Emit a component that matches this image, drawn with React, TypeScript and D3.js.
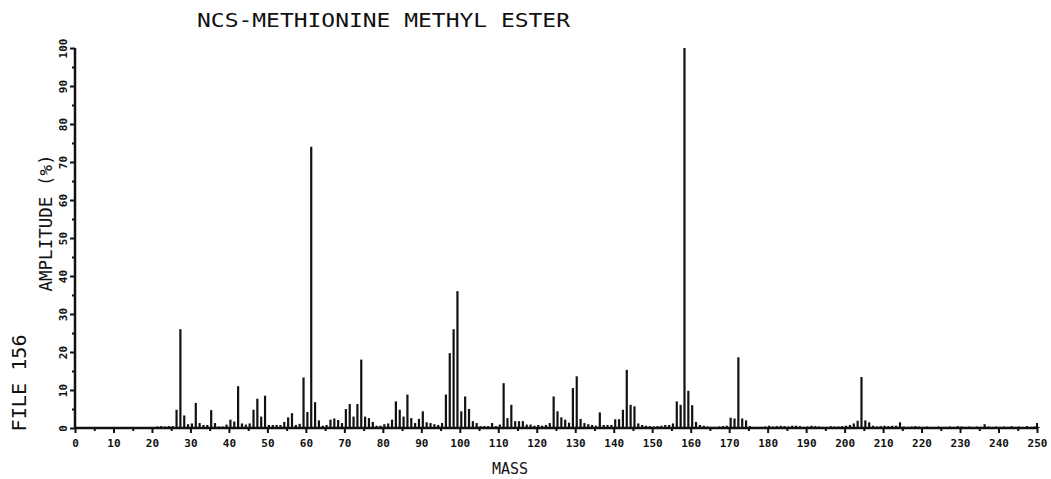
import { useEffect, useRef } from "react";
import * as d3 from "d3";

// m/z values and relative amplitudes (%)
const masses = [
  21, 22, 23, 24, 25, 26, 27, 28, 29, 30, 31, 32, 33, 34, 35, 36, 37, 38, 39, 40,
  41, 42, 43, 44, 45, 46, 47, 48, 49, 50, 51, 52, 53, 54, 55, 56, 57, 58, 59, 60,
  61, 62, 63, 64, 65, 66, 67, 68, 69, 70, 71, 72, 73, 74, 75, 76, 77, 78, 79, 80,
  81, 82, 83, 84, 85, 86, 87, 88, 89, 90, 91, 92, 93, 94, 95, 96, 97, 98, 99, 100,
  101, 102, 103, 104, 105, 106, 107, 108, 109, 110, 111, 112, 113, 114, 115, 116, 117, 118, 119, 120,
  121, 122, 123, 124, 125, 126, 127, 128, 129, 130, 131, 132, 133, 134, 135, 136, 137, 138, 139, 140,
  141, 142, 143, 144, 145, 146, 147, 148, 149, 150, 151, 152, 153, 154, 155, 156, 157, 158, 159, 160,
  161, 162, 163, 164, 165, 166, 167, 168, 169, 170, 171, 172, 173, 174, 175, 176, 177, 178, 179, 180,
  181, 182, 183, 184, 185, 186, 187, 188, 189, 190, 191, 192, 193, 194, 195, 196, 197, 198, 199, 200,
  201, 202, 203, 204, 205, 206, 207, 208, 209, 210, 211, 212, 213, 214, 215, 216, 217, 218, 219, 220,
  221, 222, 223, 224, 225, 226, 227, 228, 229, 230, 231, 232, 233, 234, 235, 236, 237, 238, 239, 240,
  241, 242, 243, 244, 245, 246, 247, 248, 249, 250,
];

const amplitudes = [
  0.4, 0.5, 0.4, 0.5, 0.5, 4.8, 26, 3.3, 1.0, 1.2, 6.6, 1.3, 0.8, 0.8, 4.7, 1.3, 0.4, 0.4, 0.9, 2.2,
  1.7, 11, 1.2, 0.9, 1.2, 4.8, 7.7, 3.0, 8.5, 0.8, 0.8, 0.8, 0.8, 1.6, 2.8, 3.9, 0.8, 1.1, 13.3, 4.2,
  74, 6.8, 2.0, 0.6, 0.8, 2.2, 2.5, 2.1, 1.3, 5.0, 6.3, 3.0, 6.3, 18, 3.0, 2.6, 1.6, 0.6, 0.6, 1.0,
  1.2, 2.2, 7.0, 4.8, 3.0, 8.8, 2.6, 1.3, 2.4, 4.4, 1.5, 1.3, 1.0, 0.8, 1.3, 8.8, 19.7, 26, 36, 4.4,
  8.3, 5.0, 1.8, 1.3, 0.5, 0.5, 0.5, 1.3, 0.5, 0.9, 11.8, 2.6, 6.1, 1.8, 1.8, 1.8, 0.9, 0.9, 0.6, 0.8,
  0.6, 0.8, 1.3, 8.3, 4.4, 2.8, 2.2, 1.4, 10.5, 13.6, 2.4, 1.3, 1.0, 0.8, 0.6, 4.1, 0.8, 0.8, 0.8, 2.3,
  2.3, 4.8, 15.3, 6.1, 5.7, 1.2, 0.8, 0.6, 0.5, 0.4, 0.5, 0.6, 0.8, 0.8, 1.2, 7.0, 6.1, 100, 9.8, 6.0,
  1.6, 0.8, 0.6, 0.4, 0.3, 0.3, 0.4, 0.5, 0.6, 2.7, 2.5, 18.6, 2.5, 2.0, 0.5, 0.3, 0.3, 0.3, 0.4, 0.6,
  0.4, 0.5, 0.6, 0.5, 0.4, 0.6, 0.6, 0.5, 0.3, 0.4, 0.6, 0.5, 0.4, 0.3, 0.3, 0.5, 0.4, 0.4, 0.5, 0.6,
  0.8, 1.2, 1.9, 13.4, 2.0, 1.5, 0.6, 0.4, 0.5, 0.6, 0.5, 0.6, 0.6, 1.5, 0.4, 0.3, 0.4, 0.5, 0.4, 0.3,
  0.4, 0.3, 0.3, 0.4, 0.3, 0.3, 0.4, 0.3, 0.5, 0.4, 0.3, 0.4, 0.3, 0.4, 0.3, 1.0, 0.4, 0.3, 0.4, 0.3,
  0.4, 0.3, 0.5, 0.3, 0.4, 0.3, 0.5, 0.3, 0.4, 0.3,
];

const massTicks = [0, 10, 20, 30, 40, 50, 60, 70, 80, 90, 100, 110, 120, 130, 140, 150, 160, 170, 180, 190, 200, 210, 220, 230, 240, 250];
const ampTicks = [0, 10, 20, 30, 40, 50, 60, 70, 80, 90, 100];

const title = "NCS-METHIONINE METHYL ESTER";
const fileLabel = "FILE 156";

export default function App() {
  const width = 1051;
  const height = 479;
  const marginLeft = 75;
  const marginRight = 14;
  const marginTop = 48;
  const marginBottom = 51;
  const ref = useRef<SVGSVGElement>(null);

  useEffect(() => {
    const svg = d3.select(ref.current);
    svg.selectAll("*").remove();

    const x = d3.scaleLinear().domain([0, 250]).range([marginLeft, width - marginRight]);
    const y = d3.scaleLinear().domain([0, 100]).range([height - marginBottom, marginTop]);
    const mono = "'DejaVu Sans Mono', 'Liberation Mono', monospace";
    const ink = "#111";
    const barShift = 1.5; // plotter draws sticks a hair right of the tick

    // minor ticks every 5
    const minorMass = massTicks.flatMap((t) => (t < 250 ? [t + 5] : []));
    svg
      .append("g")
      .attr("transform", `translate(0,${y(0)})`)
      .call(d3.axisBottom(x).tickValues(minorMass).tickSize(3).tickFormat(() => ""))
      .call((g) => g.select(".domain").remove())
      .call((g) => g.selectAll(".tick line").attr("stroke", ink).attr("stroke-width", 2));

    svg
      .append("g")
      .attr("transform", `translate(0,${y(0)})`)
      .call(d3.axisBottom(x).tickValues(massTicks).tickSize(5).tickPadding(6))
      .call((g) => g.select(".domain").remove())
      .call((g) => g.selectAll(".tick line").attr("stroke", ink).attr("stroke-width", 2))
      .call((g) =>
        g
          .selectAll(".tick text")
          .attr("fill", ink)
          .style("font-family", mono)
          .style("font-weight", "bold")
          .style("font-size", "11px"),
      );

    const minorAmp = ampTicks.flatMap((t) => (t < 100 ? [t + 5] : []));
    svg
      .append("g")
      .attr("transform", `translate(${x(0)},0)`)
      .call(d3.axisLeft(y).tickValues(minorAmp).tickSize(3).tickFormat(() => ""))
      .call((g) => g.select(".domain").remove())
      .call((g) => g.selectAll(".tick line").attr("stroke", ink).attr("stroke-width", 2));

    svg
      .append("g")
      .attr("transform", `translate(${x(0)},0)`)
      .call(d3.axisLeft(y).tickValues(ampTicks).tickSize(5))
      .call((g) => g.select(".domain").remove())
      .call((g) => g.selectAll(".tick line").attr("stroke", ink).attr("stroke-width", 2))
      .call((g) =>
        g
          .selectAll(".tick text")
          .attr("x", null)
          .attr("dy", null)
          .attr("transform", "translate(-8,0) rotate(-90)")
          .attr("text-anchor", "middle")
          .attr("fill", ink)
          .style("font-family", mono)
          .style("font-weight", "bold")
          .style("font-size", "11px"),
      );

    // sticks
    svg
      .append("g")
      .selectAll("line")
      .data(masses.map((m, i) => ({ m, a: amplitudes[i] })))
      .join("line")
      .attr("x1", (d) => x(d.m) + barShift)
      .attr("x2", (d) => x(d.m) + barShift)
      .attr("y1", y(0))
      .attr("y2", (d) => y(d.a))
      .attr("stroke", ink)
      .attr("stroke-width", 2.2);

    // axis lines
    svg
      .append("line")
      .attr("x1", x(0))
      .attr("x2", x(250))
      .attr("y1", y(0))
      .attr("y2", y(0))
      .attr("stroke", ink)
      .attr("stroke-width", 2.5);
    svg
      .append("line")
      .attr("x1", x(0))
      .attr("x2", x(0))
      .attr("y1", y(0))
      .attr("y2", y(100))
      .attr("stroke", ink)
      .attr("stroke-width", 2.5);
    svg
      .append("line")
      .attr("x1", x(250))
      .attr("x2", x(250))
      .attr("y1", y(0))
      .attr("y2", y(0) - 5)
      .attr("stroke", ink)
      .attr("stroke-width", 2);

    // titles
    svg
      .append("text")
      .attr("x", 197)
      .attr("y", 27)
      .attr("textLength", 373)
      .attr("lengthAdjust", "spacingAndGlyphs")
      .attr("fill", ink)
      .style("font-family", mono)
      .style("font-size", "20px")
      .text(title);

    svg
      .append("text")
      .attr("x", 510)
      .attr("y", 474)
      .attr("text-anchor", "middle")
      .attr("fill", ink)
      .style("font-family", mono)
      .style("font-size", "15px")
      .text("MASS");

    svg
      .append("text")
      .attr("transform", "translate(52,223) rotate(-90)")
      .attr("text-anchor", "middle")
      .attr("textLength", 137)
      .attr("lengthAdjust", "spacingAndGlyphs")
      .attr("fill", ink)
      .style("font-family", mono)
      .style("font-size", "17px")
      .text("AMPLITUDE (%)");

    svg
      .append("text")
      .attr("transform", "translate(26,383) rotate(-90)")
      .attr("text-anchor", "middle")
      .attr("textLength", 97)
      .attr("lengthAdjust", "spacingAndGlyphs")
      .attr("fill", ink)
      .style("font-family", mono)
      .style("font-size", "20px")
      .text(fileLabel);
  }, []);

  return (
    <svg
      ref={ref}
      width={width}
      height={height}
      style={{ position: "absolute", left: 0, top: 0, background: "#fff" }}
    />
  );
}
